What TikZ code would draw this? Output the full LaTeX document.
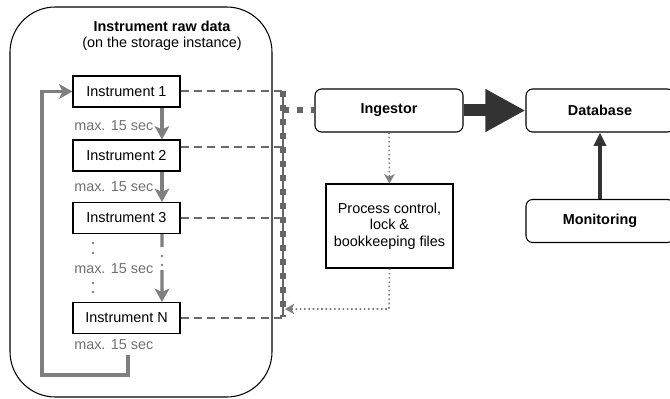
\documentclass[tikz,border=0pt]{standalone}
\usepackage{fontspec}
\setmainfont{Liberation Sans}
\usetikzlibrary{arrows.meta}

\definecolor{flowgray}{HTML}{7F7F7F}
\definecolor{pollgray}{HTML}{6A6A6A}
\definecolor{busgray}{HTML}{666666}
\definecolor{labgray}{HTML}{707070}
\definecolor{dbdark}{HTML}{333333}

\begin{document}
\begin{tikzpicture}[x=0.75pt, y=-0.75pt,
  font=\fontsize{10.8}{12.4}\selectfont,
  instr/.style={draw, line width=0.8pt, minimum width=80.25pt, minimum height=23.25pt, inner sep=0pt},
  comp/.style={draw, rounded corners=5pt, line width=0.8pt, minimum width=111pt, minimum height=32.25pt, font=\fontsize{10.8}{12.4}\selectfont\bfseries},
  waitlbl/.style={text=labgray, anchor=west, inner sep=0pt},
  flow/.style={draw=flowgray, line width=2.4pt},
  flowtip/.style={-{Stealth[length=10pt, width=11pt, inset=2.5pt]}},
  poll/.style={draw=pollgray, line width=1.5pt, dash pattern=on 6pt off 4pt},
  bus/.style={draw=busgray, line width=4.5pt, dash pattern=on 4.5pt off 6pt},
  ctrl/.style={draw=flowgray, line width=1.2pt, dotted, -{Stealth[length=7pt, width=8pt, inset=2pt]}},
  dot/.style={fill=flowgray, circle, inner sep=0pt, minimum size=2pt}
]

\useasboundingbox (0,0) rectangle (670,399);

% Storage instance
\draw[line width=0.8pt, rounded corners=34pt] (10,7) rectangle (272,397);
\node (title) at (162,26) {\bfseries Instrument raw data};
\node (sub) at (162,44) {(on the storage instance)};

% Instruments
\node[instr] (i1) at (126.5,91.5) {Instrument 1};
\node[instr] (i2) at (126.5,155.5) {Instrument 2};
\node[instr] (i3) at (126.5,218) {Instrument 3};
\node[instr] (in) at (126.5,318) {Instrument N};

\node[waitlbl] (w1) at (74,126) {max. 15 sec};
\node[waitlbl] (w2) at (74,187) {max. 15 sec};
\node[waitlbl] (w3) at (74,269) {max. 15 sec};
\node[waitlbl] (wn) at (74,345) {max. 15 sec};

% Polling order
\draw[flow, flowtip] ([xshift=26.6pt]i1.south) -- ([xshift=26.6pt]i2.north);
\draw[flow, flowtip] ([xshift=26.6pt]i2.south) -- ([xshift=26.6pt]i3.north);
\coordinate (gapa) at (162,247);
\coordinate (gapb) at (162,270);
\draw[flow] ([xshift=26.6pt]i3.south) -- (gapa);
\node[dot] (d1) at (162,256) {};
\node[dot] (d2) at (162,265) {};
\draw[flow, flowtip] (gapb) -- ([xshift=26.6pt]in.north);
\foreach \y in {243,253,283,292}
  \node[dot] at (93,\y) {};

\coordinate (loopa) at (128,355);
\coordinate (loopb) at (42,375);
\draw[flow, flowtip] (loopa) |- (loopb) |- (i1.west);

% Ingestor side
\node[comp] (ing) at (389,110.5) {Ingestor};
\node[comp] (db) at (600,110.5) {Database};
\node[comp] (mon) at (600,221) {Monitoring};
\node[draw, line width=0.8pt, align=center, minimum width=95.25pt, minimum height=63pt, inner sep=0pt] (ctl) at (389.5,226)
  {Process control,\\lock \&\\bookkeeping files};

\coordinate (bustop) at (283,91);
\coordinate (busbot) at (283,317);
\coordinate (bustap) at (283,110.5);
\draw[draw=busgray, line width=0.8pt] (bustop) -- (busbot);
\draw[bus] (bustop) -- (busbot);
\draw[bus] (bustap) -- (ing.west);

\draw[poll] (i1.east) -- (i1.east -| bustop);
\draw[poll] ([yshift=6.5pt]i2.east) -- ([yshift=6.5pt]i2.east -| bustop);
\draw[poll] (i3.east) -- (i3.east -| bustop);
\draw[poll] (in.east) -- (in.east -| bustop);

\draw[draw=dbdark, line width=9pt, -{Triangle[length=30pt, width=30pt]}] (ing.east) -- (db.west);
\draw[draw=dbdark, line width=2.4pt, -{Triangle[length=10pt, width=9pt]}] (mon.north) -- (db.south);

\coordinate (ctlturn) at (389,309);
\draw[ctrl] (ing.south) -- (ctl.north);
\draw[ctrl] (ctl.south) -- (ctlturn) -- (ctlturn -| 285,0);

\end{tikzpicture}
\end{document}
